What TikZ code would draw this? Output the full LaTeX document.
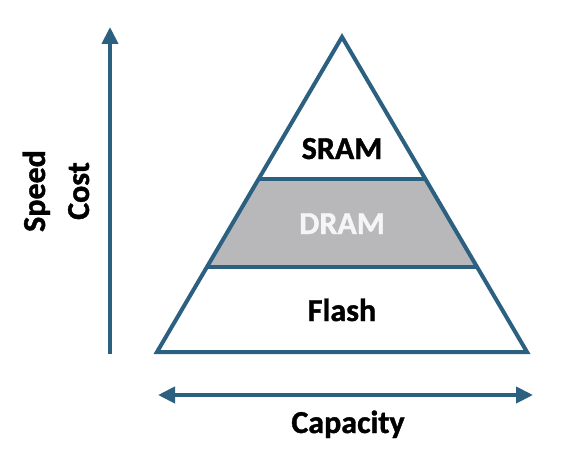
\documentclass[tikz,border=0pt]{standalone}
\usepackage{fontspec}
\setmainfont{Carlito}[BoldFeatures={FakeBold=1.2}]
\usetikzlibrary{arrows.meta,calc}
\definecolor{edge}{RGB}{43,96,128}
\definecolor{dramfill}{RGB}{184,184,186}
\definecolor{dramtext}{RGB}{245,245,245}
\begin{document}
\begin{tikzpicture}[x=1pt,y=-1pt,
  outline/.style={draw=edge,line width=4pt,line join=miter},
  axis/.style={draw=edge,line width=4pt,-{Triangle[width=16pt,length=17pt]}},
  biaxis/.style={draw=edge,line width=4pt,{Triangle[width=16pt,length=17pt]}-{Triangle[width=16pt,length=17pt]}},
  label/.style={font=\fontsize{32}{38}\selectfont\bfseries,inner sep=0pt,anchor=base}]
\useasboundingbox[fill=white] (0,0) rectangle (569,465);
% triangle corners
\coordinate (apex) at (342,37);
\coordinate (bl) at (157,352);
\coordinate (br) at (527,352);
% level boundaries
\coordinate (l1) at ($(apex)!0.4517!(bl)$);
\coordinate (r1) at ($(apex)!0.4517!(br)$);
\coordinate (l2) at ($(apex)!0.7292!(bl)$);
\coordinate (r2) at ($(apex)!0.7292!(br)$);
\fill[dramfill] (l1) -- (r1) -- (r2) -- (l2) -- cycle;
\draw[outline] (apex) -- (br) -- (bl) -- cycle;
\draw[outline] (l1) -- (r1);
\draw[outline] (l2) -- (r2);
\node[label] (sram) at (342,159) {SRAM};
\node[label,text=dramtext] (dram) at (342,234) {DRAM};
\node[label] (flash) at (342,321) {Flash};
% vertical axis
\coordinate (vbot) at (110,354);
\coordinate (vtop) at (110,27);
\draw[axis] (vbot) -- (vtop);
\node[label,rotate=90] (speed) at (45,191) {Speed};
\node[label,rotate=90] (cost) at (89,191) {Cost};
% horizontal axis
\coordinate (hl) at (158,395);
\coordinate (hr) at (533,395);
\draw[biaxis] (hl) -- (hr);
\begin{scope}
\clip (0,0) rectangle (569,438);
\node[label] (cap) at (348,433) {Capacity};
\end{scope}
\end{tikzpicture}
\end{document}
